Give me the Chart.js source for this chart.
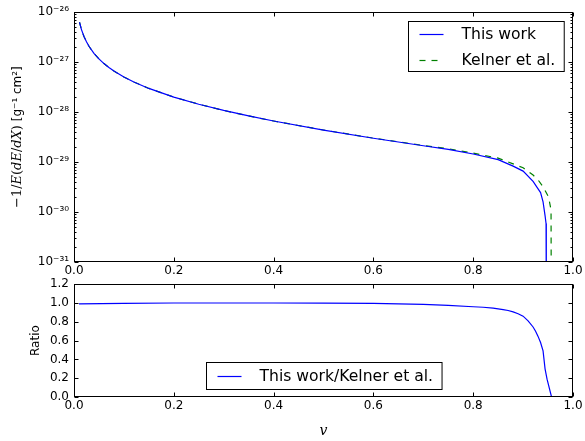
<!DOCTYPE html>
<html>
<head>
<meta charset="utf-8">
<script src="https://cdn.jsdelivr.net/npm/chart.js@4.4.0/dist/chart.umd.min.js"></script>
<style>
body { margin: 0; background: #fff; }
#wrap { position: relative; width: 585px; height: 441px; }
canvas { position: absolute; left: 0; }
#topChart { top: 0; }
#ratioChart { top: 272px; }
</style>
</head>
<body>
<div id="wrap">
<canvas id="topChart" width="585" height="282"></canvas>
<canvas id="ratioChart" width="585" height="169"></canvas>
</div>
<script>
// energy loss curves
const xThisWork = [0.011, 0.015, 0.02, 0.025, 0.03, 0.04, 0.05, 0.06, 0.07, 0.08, 0.1, 0.12, 0.15, 0.2, 0.25, 0.3, 0.35, 0.4, 0.5, 0.6, 0.7, 0.75, 0.8, 0.85, 0.88, 0.9, 0.92, 0.93, 0.935, 0.94, 0.944, 0.946, 0.9465];
const thisWork = [6.3e-27, 4.48e-27, 3.27e-27, 2.55e-27, 2.08e-27, 1.5e-27, 1.16e-27, 9.36e-28, 7.8e-28, 6.64e-28, 5.04e-28, 4.0e-28, 2.98e-28, 2.0e-28, 1.44e-28, 1.08e-28, 8.38e-29, 6.64e-29, 4.37e-29, 3.0e-29, 2.12e-29, 1.8e-29, 1.45e-29, 1.12e-29, 8.3e-30, 6.6e-30, 4.1e-30, 2.9e-30, 2.45e-30, 1.6e-30, 8.5e-31, 5.9e-31, 1e-32];
const xKelner = [0.011, 0.015, 0.02, 0.025, 0.03, 0.04, 0.05, 0.06, 0.07, 0.08, 0.1, 0.12, 0.15, 0.2, 0.25, 0.3, 0.35, 0.4, 0.5, 0.6, 0.7, 0.75, 0.8, 0.85, 0.88, 0.9, 0.92, 0.93, 0.94, 0.951, 0.956, 0.9565];
const kelner = [6.3e-27, 4.48e-27, 3.27e-27, 2.55e-27, 2.08e-27, 1.5e-27, 1.16e-27, 9.36e-28, 7.8e-28, 6.64e-28, 5.04e-28, 4.0e-28, 2.98e-28, 2.0e-28, 1.44e-28, 1.08e-28, 8.38e-29, 6.64e-29, 4.38e-29, 3.02e-29, 2.15e-29, 1.85e-29, 1.51e-29, 1.2e-29, 9.2e-30, 7.7e-30, 5.5e-30, 4.4e-30, 3.2e-30, 2.0e-30, 1.1e-30, 1e-32];

// ratio panel
const xRatio = [0.01, 0.1, 0.2, 0.3, 0.4, 0.5, 0.6, 0.7, 0.75, 0.8, 0.82, 0.84, 0.86, 0.87, 0.88, 0.89, 0.9, 0.91, 0.92, 0.925, 0.93, 0.935, 0.94, 0.944, 0.948, 0.957];
const ratio = [0.99, 0.995, 1.0, 1.0, 1.0, 0.998, 0.995, 0.985, 0.975, 0.96, 0.955, 0.945, 0.93, 0.92, 0.905, 0.885, 0.86, 0.81, 0.745, 0.70, 0.645, 0.58, 0.49, 0.30, 0.19, 0.0];

// ticks
const xTicks = [0, 0.2, 0.4, 0.6, 0.8, 1.0];
const logExponents = [-31, -30, -29, -28, -27, -26];
const ratioTicks = [0, 0.2, 0.4, 0.6, 0.8, 1.0, 1.2];

const sup = {'-': '\u207B', '0': '\u2070', '1': '\u00B9', '2': '\u00B2', '3': '\u00B3', '4': '\u2074', '5': '\u2075', '6': '\u2076', '7': '\u2077', '8': '\u2078', '9': '\u2079'};
const toSup = (s) => String(s).split('').map(c => sup[c]).join('');

const pts = (xs, ys) => xs.map((x, i) => ({x: x, y: ys[i]}));

const tickFont = {family: 'DejaVu Sans', size: 12};
const legendFont = '15.6px "DejaVu Sans"';

const drawLegend = (chart, cfg) => {
    const {ctx, chartArea: a} = chart;
    const ds = chart.data.datasets;
    ctx.save();
    ctx.font = legendFont;
    let tw = 0;
    ds.forEach(d => { tw = Math.max(tw, ctx.measureText(d.label).width); });
    const w = 53 + tw + 9;
    const h = cfg.padV * 2 + (ds.length - 1) * 26;
    let left, top;
    if (cfg.where == 'upper right') {
        left = a.right - 9 - w;
        top = a.top + 9;
    } else {
        left = (a.left + a.right) / 2 - w / 2;
        top = a.bottom - 8 - h;
    }
    left = Math.round(left) + 0.5;
    top = Math.round(top) + 0.5;
    ctx.fillStyle = '#fff';
    ctx.strokeStyle = '#000';
    ctx.lineWidth = 1;
    ctx.fillRect(left, top, w, h);
    ctx.strokeRect(left, top, w, h);
    ds.forEach((d, i) => {
        const y = Math.round(top + cfg.padV + i * 26) + 0.5;
        ctx.beginPath();
        ctx.setLineDash(d.borderDash || []);
        ctx.strokeStyle = d.borderColor;
        ctx.lineWidth = d.borderWidth;
        ctx.moveTo(left + 11, y);
        ctx.lineTo(left + 35, y);
        ctx.stroke();
        ctx.setLineDash([]);
        ctx.fillStyle = '#000';
        ctx.textBaseline = 'middle';
        ctx.textAlign = 'left';
        ctx.fillText(d.label, left + 53, y);
    });
    ctx.restore();
};

// matplotlib-like frame, inward ticks, legend and mixed-font y title
const framePlugin = {
    id: 'frame',
    afterDraw(chart, args, opts) {
        const {ctx, chartArea: a, scales} = chart;
        ctx.save();
        ctx.strokeStyle = '#000';
        ctx.lineWidth = 1;
        const L = Math.round(a.left) + 0.5, R = Math.round(a.right) - 0.5;
        const T = Math.round(a.top) + 0.5, B = Math.round(a.bottom) - 0.5;
        ctx.strokeRect(L, T, R - L, B - T);
        ctx.beginPath();
        xTicks.forEach(v => {
            const px = Math.round(scales.x.getPixelForValue(v)) + 0.5;
            ctx.moveTo(px, B); ctx.lineTo(px, B - 4);
            ctx.moveTo(px, T); ctx.lineTo(px, T + 4);
        });
        opts.yMajor.forEach(v => {
            const py = Math.round(scales.y.getPixelForValue(v)) + 0.5;
            ctx.moveTo(L, py); ctx.lineTo(L + 4, py);
            ctx.moveTo(R, py); ctx.lineTo(R - 4, py);
        });
        (opts.yMinor || []).forEach(v => {
            const py = Math.round(scales.y.getPixelForValue(v)) + 0.5;
            ctx.moveTo(L, py); ctx.lineTo(L + 2, py);
            ctx.moveTo(R, py); ctx.lineTo(R - 2, py);
        });
        ctx.stroke();
        if (opts.titleParts) {
            ctx.translate(opts.titleX, (a.top + a.bottom) / 2);
            ctx.rotate(-Math.PI / 2);
            ctx.textBaseline = 'middle';
            ctx.textAlign = 'left';
            ctx.fillStyle = '#000';
            let total = 0;
            const widths = opts.titleParts.map(p => {
                ctx.font = p.font;
                const w = ctx.measureText(p.text).width;
                total += w;
                return w;
            });
            let x = -total / 2;
            opts.titleParts.forEach((p, i) => {
                ctx.font = p.font;
                ctx.fillText(p.text, x, 0);
                x += widths[i];
            });
        }
        ctx.restore();
        drawLegend(chart, opts.legend);
    }
};

const logMajor = logExponents.map(e => Math.pow(10, e));
const logMinor = [];
logExponents.slice(0, -1).forEach(e => {
    for (let k = 2; k < 10; k++) logMinor.push(k * Math.pow(10, e));
});

const serifIt = 'italic 13px "DejaVu Serif"';
const serif = '13px "DejaVu Serif"';

const ctxTop = document.getElementById('topChart').getContext('2d');
const topChart = new Chart(ctxTop, {
    type: 'line',
    data: {
        datasets: [{
            label: 'This work',
            data: pts(xThisWork, thisWork),
            borderColor: '#0000ff',
            borderWidth: 1.2,
            pointRadius: 0,
            fill: false
        }, {
            label: 'Kelner et al.',
            data: pts(xKelner, kelner),
            borderColor: '#008000',
            borderWidth: 1.2,
            borderDash: [6, 6],
            pointRadius: 0,
            fill: false
        }]
    },
    options: {
        responsive: false,
        animation: false,
        layout: {padding: {top: 12, right: 12, left: 0, bottom: 0}},
        plugins: {
            legend: {display: false},
            tooltip: {enabled: false},
            frame: {
                yMajor: logMajor,
                yMinor: logMinor,
                legend: {where: 'upper right', padV: 12},
                titleX: 18,
                titleParts: [
                    {text: '\u22121/', font: serif},
                    {text: 'E', font: serifIt},
                    {text: '(', font: serif},
                    {text: 'dE', font: serifIt},
                    {text: '/', font: serif},
                    {text: 'dX', font: serifIt},
                    {text: ')', font: serif},
                    {text: ' [g\u207B\u00B9 cm\u00B2]', font: '12px "DejaVu Sans"'}
                ]
            }
        },
        scales: {
            x: {
                type: 'linear',
                min: 0,
                max: 1,
                afterBuildTicks: (s) => { s.ticks = xTicks.map(v => ({value: v})); },
                afterFit: (s) => { s.height = 20; },
                ticks: {callback: (v) => v.toFixed(1), font: tickFont, color: '#000', padding: 2, maxRotation: 0},
                grid: {display: false, drawTicks: false},
                border: {display: false}
            },
            y: {
                type: 'logarithmic',
                min: 1e-31,
                max: 1e-26,
                afterBuildTicks: (s) => { s.ticks = logMajor.map(v => ({value: v})); },
                afterFit: (s) => { s.width = 74; },
                ticks: {
                    callback: (v) => '10' + toSup(Math.round(Math.log10(v))),
                    font: tickFont, color: '#000', padding: 5
                },
                grid: {display: false, drawTicks: false},
                border: {display: false}
            }
        }
    },
    plugins: [framePlugin]
});

const ctxRatio = document.getElementById('ratioChart').getContext('2d');
const ratioChart = new Chart(ctxRatio, {
    type: 'line',
    data: {
        datasets: [{
            label: 'This work/Kelner et al.',
            data: pts(xRatio, ratio),
            borderColor: '#0000ff',
            borderWidth: 1.2,
            pointRadius: 0,
            fill: false
        }]
    },
    options: {
        responsive: false,
        animation: false,
        layout: {padding: {top: 12, right: 12, left: 0, bottom: 0}},
        plugins: {
            legend: {display: false},
            tooltip: {enabled: false},
            frame: {
                yMajor: ratioTicks,
                legend: {where: 'lower center', padV: 13.5}
            }
        },
        scales: {
            x: {
                type: 'linear',
                min: 0,
                max: 1,
                afterBuildTicks: (s) => { s.ticks = xTicks.map(v => ({value: v})); },
                afterFit: (s) => { s.height = 44; },
                ticks: {callback: (v) => v.toFixed(1), font: tickFont, color: '#000', padding: 2, maxRotation: 0},
                title: {
                    display: true,
                    text: 'v',
                    color: '#000',
                    font: {family: 'DejaVu Serif', style: 'italic', size: 14},
                    padding: {top: 0, bottom: 1}
                },
                grid: {display: false, drawTicks: false},
                border: {display: false}
            },
            y: {
                type: 'linear',
                min: 0,
                max: 1.2,
                afterBuildTicks: (s) => { s.ticks = ratioTicks.map(v => ({value: v})); },
                afterFit: (s) => { s.width = 74; },
                ticks: {callback: (v) => v.toFixed(1), font: tickFont, color: '#000', padding: 5},
                title: {
                    display: true,
                    text: 'Ratio',
                    color: '#000',
                    font: {family: 'DejaVu Sans', size: 12},
                    padding: {top: 29, bottom: 0}
                },
                grid: {display: false, drawTicks: false},
                border: {display: false}
            }
        }
    },
    plugins: [framePlugin]
});
</script>
</body>
</html>
